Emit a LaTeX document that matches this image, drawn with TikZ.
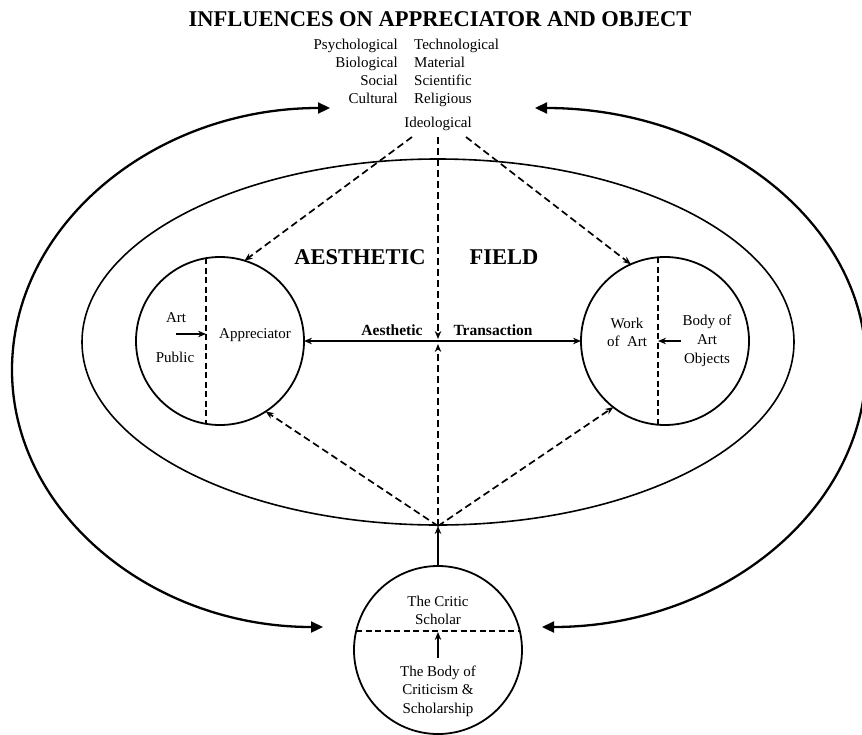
\documentclass[tikz,border=0pt]{standalone}
\usepackage{fontspec}
\setmainfont{Liberation Serif}
\usetikzlibrary{arrows.meta,calc}
\begin{document}
\begin{tikzpicture}[x=1pt,y=-1pt,
  body/.style={font=\fontsize{15}{18}\selectfont, inner sep=0pt, align=center},
  bigbold/.style={font=\bfseries\fontsize{22.5}{26}\selectfont, inner sep=0pt},
  midbold/.style={font=\bfseries\fontsize{15.5}{18}\selectfont, inner sep=0pt},
  realm/.style={circle, draw, line width=1.8pt, minimum size=168pt, inner sep=0pt, outer sep=0pt},
  divider/.style={line width=1.7pt, dash pattern=on 6pt off 3.5pt},
  influence/.style={line width=1.7pt, dash pattern=on 7pt off 4pt, -{Stealth[length=8pt,width=6.5pt]}},
  solidarrow/.style={line width=1.6pt, -{Stealth[length=8pt,width=6.5pt]}},
  loop/.style={line width=2.3pt, {Triangle[length=12pt,width=11pt]}-{Triangle[length=12pt,width=11pt]}}]
\useasboundingbox (0,0) rectangle (862,734);
\clip (0,0) rectangle (862,734);

% heading and list of influences
\node[bigbold] (title) at (440,19) {INFLUENCES ON APPRECIATOR AND OBJECT};
\node[body, anchor=base east] (psy) at (398,49) {Psychological};
\node[body, anchor=base east] (bio) at (398,67) {Biological};
\node[body, anchor=base east] (soc) at (398,85) {Social};
\node[body, anchor=base east] (cul) at (398,103) {Cultural};
\node[body, anchor=base west] (tec) at (414,49) {Technological};
\node[body, anchor=base west] (mat) at (414,67) {Material};
\node[body, anchor=base west] (sci) at (414,85) {Scientific};
\node[body, anchor=base west] (rel) at (414,103) {Religious};
\node[body, anchor=base] (ideo) at (438,127) {Ideological};

% the aesthetic field
\draw[line width=1.6pt] (438,342) ellipse [x radius=356, y radius=183];
\node[bigbold] (aes) at (360,257) {AESTHETIC};
\node[bigbold] (fld) at (504,257) {FIELD};

% appreciator
\node[realm] (app) at (220,341) {};
\draw[divider] ($(app.center)+(-14,-82.8)$) -- ($(app.center)+(-14,82.8)$);
\node[body] (art) at (176,318) {Art};
\node[body] (pub) at (175,357) {Public};
\node[body] (appr) at (255,335) {Appreciator};
\coordinate (artpub) at (176,334);
\coordinate (appdiv) at (206,334);
\draw[solidarrow] (artpub) -- (appdiv);

% work of art
\node[realm] (woa) at (665,341) {};
\draw[divider] ($(woa.center)+(-7,-83.7)$) -- ($(woa.center)+(-7,83.7)$);
\node[body] (work) at (627,332) {Work\\of~ Art};
\node[body, font=\fontsize{15}{19}\selectfont] (bodyart) at (707,341) {Body of\\Art\\Objects};
\coordinate (bodyarr) at (681,341);
\coordinate (woadiv) at (658,341);
\draw[solidarrow] (bodyarr) -- (woadiv);

% critic and scholar
\node[realm] (crit) at (438,650) {};
\draw[divider] ($(crit.center)+(-81.8,-19)$) -- ($(crit.center)+(81.8,-19)$);
\node[body] (critic) at (438,610) {The Critic\\Scholar};
\node[body, font=\fontsize{15}{18.5}\selectfont] (bodycrit) at (438,691) {The Body of\\Criticism \&\\Scholarship};
\coordinate (critlow) at (438,658);
\coordinate (critdiv) at (438,632);
\draw[solidarrow] (critlow) -- (critdiv);

% aesthetic transaction
\draw[line width=1.6pt, {Stealth[length=8pt,width=6.5pt]}-{Stealth[length=8pt,width=6.5pt]}] (app.east) -- (woa.west);
\node[midbold] (aest) at (392,330) {Aesthetic};
\node[midbold] (trans) at (493,330) {Transaction};

% influences flowing in
\coordinate (infl) at (412,137);
\coordinate (infc) at (438,137);
\coordinate (infr) at (466,137);
\coordinate (hub) at (438,341);
\coordinate (conv) at (438,526);
\draw[influence] (infl) -- (app.73);
\draw[influence] (infr) -- (woa.114);
\draw[influence] (infc) -- ($(hub)+(0,-2)$);
\draw[influence] (conv) -- ($(hub)+(0,3)$);
\draw[influence] (conv) -- (app.-57);
\draw[influence] (conv) -- (woa.-128);
\draw[solidarrow] (crit.north) -- (conv);

% feedback loops between influences and criticism
\coordinate (ltop) at (330,108);
\coordinate (lbot) at (323,627);
\coordinate (rtop) at (535,108);
\coordinate (rbot) at (542,627);
\draw[loop] (ltop) .. controls (154,108) and (12,225) .. (12,370)
                   .. controls (12,512) and (151,627) .. (lbot);
\draw[loop] (rtop) .. controls (718,108) and (866,223) .. (866,365)
                   .. controls (866,510) and (721,627) .. (rbot);
\end{tikzpicture}
\end{document}
